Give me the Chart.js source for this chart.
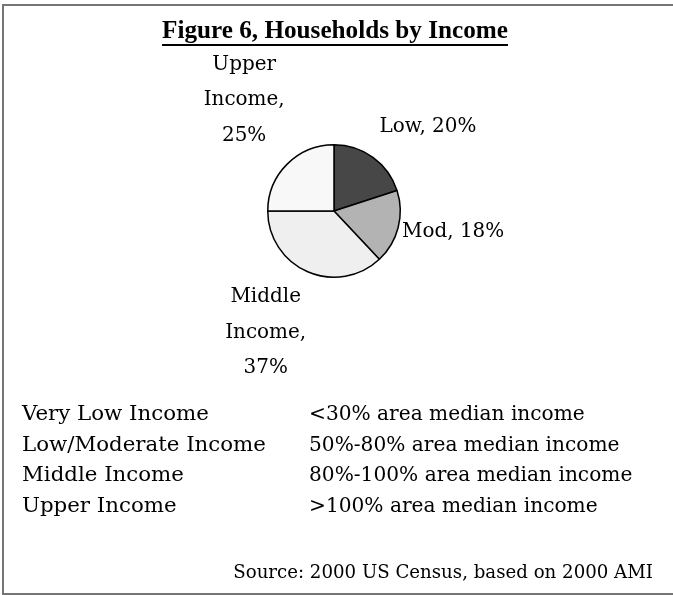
<!DOCTYPE html>
<html>
<head>
<meta charset="utf-8">
<title>Households by Income</title>
<script src="https://cdn.jsdelivr.net/npm/chart.js@4.4.1/dist/chart.umd.min.js"></script>
<style>
  html, body { margin: 0; padding: 0; background: #fff; }
  #page {
    position: relative; width: 673px; height: 595px; overflow: hidden;
    font-family: "DejaVu Serif", "Liberation Serif", serif; color: #000;
  }
  #frame {
    position: absolute; left: 2px; top: 4px; width: 720px; height: 591px;
    border: 2px solid #757575; border-right: none; box-sizing: border-box;
  }
  #pie { position: absolute; left: 0; top: 0; }
  .txt { position: absolute; white-space: nowrap; line-height: 1; }
  .bl { display: inline-block; width: 0; height: 0; vertical-align: baseline; }
  .title {
    font-family: "Liberation Serif", serif; font-weight: bold;
    text-decoration: underline; text-decoration-thickness: 1.8px; text-underline-offset: 6px;
  }
</style>
</head>
<body>
<div id="page">
  <div id="frame"></div>
  <canvas id="pie" width="673" height="595"></canvas>
</div>
<script>
// slice data, clockwise from 12 o'clock
const categories = ['Low', 'Mod', 'Middle Income', 'Upper Income'];
const shares = [20, 18, 37, 25];

// definitions listed under the pie
const incomeGroups = ['Very Low Income', 'Low/Moderate Income', 'Middle Income', 'Upper Income'];
const incomeRanges = ['<30% area median income', '50%-80% area median income',
                      '80%-100% area median income', '>100% area median income'];

const titleText = 'Figure 6, Households by Income';
const sourceText = 'Source: 2000 US Census, based on 2000 AMI';

const sliceColors = ['#474747', '#b3b3b3', '#efefef', '#f8f8f8'];
// where each label block sits relative to the middle of its slice's rim
const labelNudge = [[55, -31], [55, 4], [-42, 60], [-43, -65]];

const FAMILY = '"DejaVu Serif", "Liberation Serif", serif';
const TITLE_FAMILY = '"Liberation Serif", serif';
const page = document.getElementById('page');
const measureCtx = document.createElement('canvas').getContext('2d');

// font size at which `text` comes out `width` px wide
function fitSize(text, width, weight, family) {
  measureCtx.font = (weight || 'normal') + ' 100px ' + (family || FAMILY);
  return 100 * width / measureCtx.measureText(text).width;
}

const titleSize = fitSize(titleText, 346, 'bold', TITLE_FAMILY);
const groupSize = fitSize('Low/Moderate Income', 244);
const rangeSize = fitSize('<30% area median income', 276);
const sourceSize = fitSize(sourceText, 420);
const labelSize = fitSize('Low, 20%', 97);

// put a line of text so that its baseline lands on y
function placeText(text, cls, size, x, y, align) {
  const el = document.createElement('div');
  el.className = 'txt ' + cls;
  el.style.fontSize = size + 'px';
  el.textContent = text;
  const mark = document.createElement('span');
  mark.className = 'bl';
  el.appendChild(mark);
  page.appendChild(el);
  const w = el.getBoundingClientRect().width;
  let left = x;
  if (align === 'center') left = x - w / 2;
  if (align === 'right') left = x - w;
  el.style.left = left + 'px';
  el.style.top = (y - mark.offsetTop) + 'px';
  return el;
}

placeText(titleText, 'title', titleSize, 335, 38, 'center');

incomeGroups.forEach((g, i) => {
  const y = 420 + i * 30.5;
  placeText(g, '', groupSize, 22, y, 'left');
  placeText(incomeRanges[i], '', rangeSize, 309, y, 'left');
});
placeText(sourceText, '', sourceSize, 653, 578, 'right');

// "Middle Income" -> Middle / Income, / 37%   ;  "Low" -> Low, 20%
function labelLines(name, value) {
  const words = name.split(' ');
  if (words.length === 1) return [name + ', ' + value + '%'];
  const lines = words.slice();
  lines[lines.length - 1] += ',';
  lines.push(value + '%');
  return lines;
}

const sliceLabels = {
  id: 'sliceLabels',
  afterDatasetsDraw(chart) {
    const ctx = chart.ctx;
    const arcs = chart.getDatasetMeta(0).data;
    const lineH = 35.5;
    ctx.save();
    ctx.font = labelSize + 'px ' + FAMILY;
    ctx.fillStyle = '#000';
    ctx.textAlign = 'center';
    ctx.textBaseline = 'alphabetic';
    arcs.forEach((arc, i) => {
      const mid = (arc.startAngle + arc.endAngle) / 2;
      const ex = arc.x + Math.cos(mid) * arc.outerRadius;
      const ey = arc.y + Math.sin(mid) * arc.outerRadius;
      const cx = ex + labelNudge[i][0];
      const cy = ey + labelNudge[i][1];
      const lines = labelLines(chart.data.labels[i], chart.data.datasets[0].data[i]);
      const first = cy - (lines.length - 1) * lineH / 2 + 6;
      lines.forEach((t, k) => ctx.fillText(t, cx, first + k * lineH));
    });
    ctx.restore();
  }
};

new Chart(document.getElementById('pie'), {
  type: 'pie',
  data: {
    labels: categories,
    datasets: [{
      data: shares,
      backgroundColor: sliceColors,
      borderColor: '#000',
      borderWidth: 1.5
    }]
  },
  options: {
    responsive: false,
    devicePixelRatio: 1,
    animation: false,
    layout: { padding: { left: 267, right: 272, top: 144, bottom: 317 } },
    plugins: {
      legend: { display: false },
      tooltip: { enabled: false },
      title: { display: false }
    }
  },
  plugins: [sliceLabels]
});
</script>
</body>
</html>
